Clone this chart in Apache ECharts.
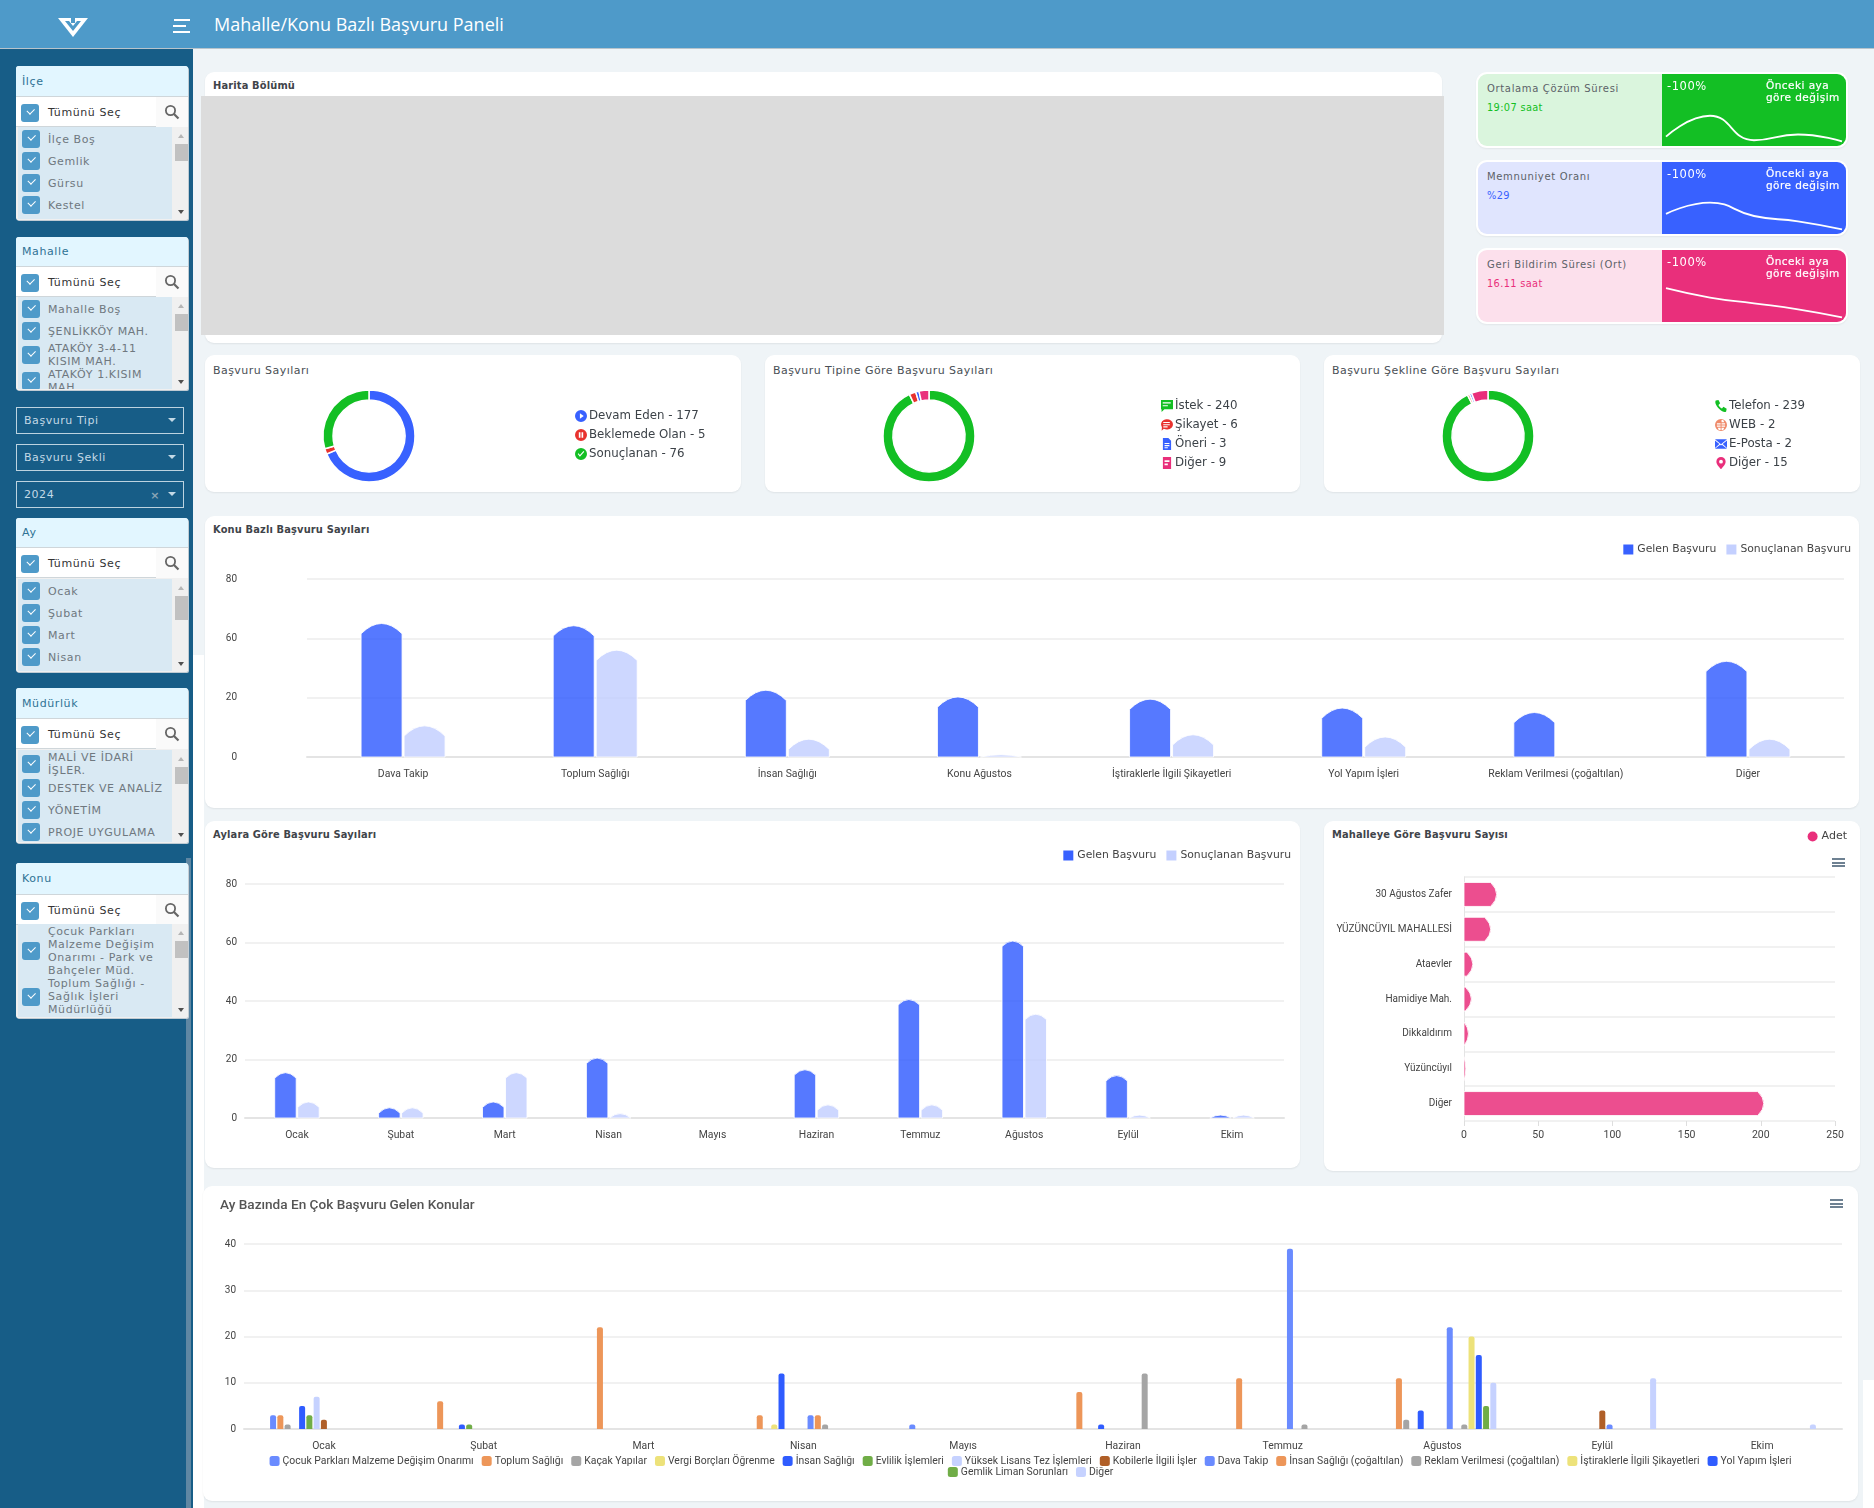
<!DOCTYPE html>
<html lang="tr">
<head>
<meta charset="utf-8">
<title>Mahalle/Konu Bazlı Başvuru Paneli</title>
<script src="https://cdn.jsdelivr.net/npm/echarts@6/dist/echarts.min.js"></script>
<style>
html,body{margin:0;padding:0;width:1874px;height:1508px;overflow:hidden;background:#eff4f7;font-family:"DejaVu Sans",sans-serif;}
div{box-sizing:border-box;}
.abs{position:absolute;}
.card{position:absolute;background:#fff;border-radius:9px;box-shadow:0 1px 2px rgba(0,0,0,.07);}
.ttl{position:absolute;left:8px;color:#4a4f55;font-size:11px;letter-spacing:.45px;white-space:nowrap;}
.ttl.b{font-weight:bold;font-size:9.9px;letter-spacing:.15px;color:#3f444a;}
.chart{position:absolute;left:0;top:0;width:100%;height:100%;}
.menu{position:absolute;width:13px;height:9px;border-top:2px solid #6e8192;border-bottom:2px solid #6e8192;}
.menu:after{content:"";position:absolute;left:0;right:0;top:1.5px;height:2px;background:#6e8192;}
.fp{position:absolute;left:16px;width:172px;border-radius:3px 3px 2px 2px;overflow:hidden;font-size:11px;letter-spacing:.6px;box-shadow:1px 1px 0 rgba(210,215,220,.9);background:#f0f0f0;}
.fp .hd{position:absolute;left:0;top:0;width:100%;background:#e2f6ff;color:#2f7294;padding-left:6px;display:flex;align-items:center;border-bottom:1px solid #cfd6da;}
.fp .sr{position:absolute;left:0;width:100%;height:30px;background:#fff;color:#333;border-bottom:1px solid #cfd6da;}
.fp .sr span{position:absolute;left:32px;top:9px;}
.fp .glass{position:absolute;left:140px;top:0;width:32px;height:30px;background:#fafafa;}
.fp .ls{position:absolute;left:2px;width:154px;bottom:1px;background:#d9e9f3;color:#6f787f;overflow:hidden;padding-top:1px;}
.fp .it{position:relative;min-height:22px;display:flex;align-items:center;padding-left:30px;line-height:13px;}
.cb{position:absolute;width:18px;height:18px;background:#4e9ac9;border-radius:3px;}
.cb:after{content:"";position:absolute;left:6px;top:4px;width:6px;height:3.5px;border-left:1.6px solid #fff;border-bottom:1.6px solid #fff;transform:rotate(-45deg);}
.it .cb{left:4px;top:50%;margin-top:-9px;}
.fp .tr{position:absolute;left:156px;width:16px;bottom:1px;background:#f0f0f0;}
.fp .tb{position:absolute;left:3px;width:13px;background:#c1c1c1;}
.up,.dn{position:absolute;left:6px;width:0;height:0;border-left:3.5px solid transparent;border-right:3.5px solid transparent;}
.up{top:7px;border-bottom:4px solid #b5b5b5;}
.dn{bottom:5px;border-top:4px solid #505050;}
.sel{position:absolute;left:16px;width:168px;height:27px;border:1px solid #bcd3e0;color:#c3d9e6;font-size:11px;letter-spacing:.55px;padding:6px 0 0 7px;}
.sel:after{content:"";position:absolute;right:7px;top:10px;border-left:4px solid transparent;border-right:4px solid transparent;border-top:4px solid #c3d9e6;}
.kpi{position:absolute;left:1476px;width:372px;height:76px;background:#fff;border-radius:11px;padding:2px;box-shadow:0 1px 2px rgba(0,0,0,.06);}
.kpi .in{position:relative;width:100%;height:100%;border-radius:9px;overflow:hidden;}
.kpi .rt{position:absolute;left:184px;top:0;width:184px;height:72px;}
.kpi .t1{position:absolute;left:9px;top:9px;font-size:10px;letter-spacing:.65px;color:#5c6268;white-space:nowrap;}
.kpi .t2{position:absolute;left:9px;top:28px;font-size:9.8px;letter-spacing:.35px;white-space:nowrap;}
.kpi .pc{position:absolute;left:5px;top:5px;color:#fff;font-size:11.5px;letter-spacing:.55px;}
.kpi .nt{position:absolute;left:104px;top:5px;color:#fff;font-size:10.5px;line-height:12px;letter-spacing:.45px;-webkit-text-stroke:.2px #fff;}
</style>
</head>
<body>
<div id="page"></div>
<script>
// sol filtreler
var ilceItems = ['İlçe Boş', 'Gemlik', 'Gürsu', 'Kestel'];
var mahalleItems = ['Mahalle Boş', 'ŞENLİKKÖY MAH.', 'ATAKÖY 3-4-11 KISIM MAH.', 'ATAKÖY 1.KISIM MAH.'];
var ayItems = ['Ocak', 'Şubat', 'Mart', 'Nisan'];
var mudurlukItems = ['MALİ VE İDARİ İŞLER.', 'DESTEK VE ANALİZ', 'YÖNETİM', 'PROJE UYGULAMA'];
var konuItems = ['Çocuk Parkları Malzeme Değişim Onarımı - Park ve Bahçeler Müd.', 'Toplum Sağlığı - Sağlık İşleri Müdürlüğü'];

// kpi sparkline
var sparkGreen = [13, 42, 8, 16, 6.5];
var sparkBlue = [28, 43.5, 25, 17.6, 6.5];
var sparkPink = [47, 34, 26, 17.6, 6.5];

// donut grafikler
var durumNames = ['Devam Eden', 'Beklemede Olan', 'Sonuçlanan'];
var durumValues = [177, 5, 76];
var tipNames = ['İstek', 'Şikayet', 'Öneri', 'Diğer'];
var tipValues = [240, 6, 3, 9];
var sekilNames = ['Telefon', 'WEB', 'E-Posta', 'Diğer'];
var sekilValues = [239, 2, 2, 15];

// konu bazli
var konuCats = ['Dava Takip', 'Toplum Sağlığı', 'İnsan Sağlığı', 'Konu Ağustos', 'İştiraklerle İlgili Şikayetleri', 'Yol Yapım İşleri', 'Reklam Verilmesi (çoğaltılan)', 'Diğer'];
var konuGelen = [60, 59, 30, 27, 26, 22, 20, 43];
var konuSonuc = [14, 48, 8, 1, 10, 9, 0, 8];
var konuTicks = ['0', '20', '60', '80'];

// aylar
var aylar = ['Ocak', 'Şubat', 'Mart', 'Nisan', 'Mayıs', 'Haziran', 'Temmuz', 'Ağustos', 'Eylül', 'Ekim'];
var ayGelen = [15.5, 3.5, 5.5, 20.5, 0, 16.5, 40.5, 60.5, 14.5, 1];
var aySonuc = [5.5, 3.5, 15.5, 1.5, 0, 4.5, 4.5, 35.5, 1, 1];

// mahalle
var mahalleCats = ['30 Ağustos Zafer', 'YÜZÜNCÜYIL MAHALLESİ', 'Ataevler', 'Hamidiye Mah.', 'Dikkaldırım', 'Yüzüncüyıl', 'Diğer'];
var mahalleAdet = [22, 18, 6, 5, 3, 1.2, 202];

// ay bazinda konular
var cocukParklari = [3, 0, 0, 0, 1, 0, 0, 0, 0, 0];
var toplumSagligi = [3, 6, 22, 3, 0, 8, 11, 11, 0, 0];
var kacakYapilar = [1, 0, 0, 0, 0, 0, 0, 2, 0, 0];
var vergiBorclari = [0, 0, 0, 1, 0, 0, 0, 0, 0, 0];
var insanSagligi = [5, 1, 0, 12, 0, 1, 0, 4, 0, 0];
var evlilik = [3, 1, 0, 0, 0, 0, 0, 0, 0, 0];
var yuksekLisans = [7, 0, 0, 0, 0, 0, 0, 0, 0, 0];
var kobiler = [2, 0, 0, 0, 0, 0, 0, 0, 4, 0];
var davaTakip = [0, 0, 0, 3, 0, 0, 39, 22, 1, 0];
var insanCogaltilan = [0, 0, 0, 3, 0, 0, 0, 0, 0, 0];
var reklam = [0, 0, 0, 1, 0, 12, 1, 1, 0, 0];
var istirakler = [0, 0, 0, 0, 0, 0, 0, 20, 0, 0];
var yolYapim = [0, 0, 0, 0, 0, 0, 0, 16, 0, 0];
var gemlikLiman = [0, 0, 0, 0, 0, 0, 0, 5, 0, 0];
var digerKonu = [0, 0, 0, 0, 0, 0, 0, 10, 11, 1];
var konuSeries = [
    ['Çocuk Parkları Malzeme Değişim Onarımı', cocukParklari, '#6a8bff'],
    ['Toplum Sağlığı', toplumSagligi, '#ed9659'],
    ['Kaçak Yapılar', kacakYapilar, '#a5a5a5'],
    ['Vergi Borçları Öğrenme', vergiBorclari, '#ede27a'],
    ['İnsan Sağlığı', insanSagligi, '#2f5cff'],
    ['Evlilik İşlemleri', evlilik, '#70ad47'],
    ['Yüksek Lisans Tez İşlemleri', yuksekLisans, '#c6d2ff'],
    ['Kobilerle İlgili İşler', kobiler, '#b05f28'],
    ['Dava Takip', davaTakip, '#6a8bff'],
    ['İnsan Sağlığı (çoğaltılan)', insanCogaltilan, '#ed9659'],
    ['Reklam Verilmesi (çoğaltılan)', reklam, '#a5a5a5'],
    ['İştiraklerle İlgili Şikayetleri', istirakler, '#ede27a'],
    ['Yol Yapım İşleri', yolYapim, '#2f5cff'],
    ['Gemlik Liman Sorunları', gemlikLiman, '#70ad47'],
    ['Diğer', digerKonu, '#c6d2ff']
];

var page = document.getElementById('page');
var BLUE = '#3861ff', LIGHT = '#c4d0ff', PINK = '#e92f7b', GREEN = '#13bf24', RED = '#e8322e';
var LABEL_FONT = 'Roboto';

function addDiv(cssText, html, cls) {
    var d = document.createElement('div');
    d.className = cls || 'abs';
    d.style.cssText = 'position:absolute;' + cssText;
    if (html) d.innerHTML = html;
    page.appendChild(d);
    return d;
}

var glassSvg = '<svg style="position:absolute;left:8px;top:7px" width="16" height="16" viewBox="0 0 16 16"><circle cx="6.5" cy="6.5" r="4.6" fill="none" stroke="#666" stroke-width="1.8"/><path d="M10 10L14.5 14.5" stroke="#666" stroke-width="2.2"/></svg>';

function filterPanel(title, top, h1, h2, bottom, items, thumb) {
    var html = '<div class="hd" style="height:' + h1 + 'px">' + title + '</div>';
    html += '<div class="sr" style="top:' + h1 + 'px"><div class="cb" style="left:5px;top:7px"></div><span>Tümünü Seç</span><div class="glass">' + glassSvg + '</div></div>';
    var lt = h1 + h2;
    html += '<div class="ls" style="top:' + lt + 'px">';
    items.forEach(function (t) {
        html += '<div class="it"><div class="cb"></div><div>' + t + '</div></div>';
    });
    html += '</div><div class="tr" style="top:' + lt + 'px"><div class="up"></div><div class="tb" style="top:' + thumb[0] + 'px;height:' + thumb[1] + 'px"></div><div class="dn"></div></div>';
    addDiv('top:' + top + 'px;height:' + (bottom - top) + 'px', html, 'fp');
}

// header + sidebar
addDiv('left:0;top:0;width:1874px;height:49px;background:#4e9ac9;border-bottom:1px solid #b8c4cc');
addDiv('left:57px;top:16px;width:32px;height:22px', '<svg width="32" height="22" viewBox="0 0 32 22"><path d="M1 2H31L16 21Z" fill="#fff"/><path d="M8 5L16 15L24 5H20L16 10L12 5Z" fill="#4e9ac9"/><path d="M14 2H18V7H14Z" fill="#4e9ac9"/></svg>');
addDiv('left:174px;top:19px;width:16px;height:2px;background:#fff');
addDiv('left:173px;top:25px;width:13px;height:2px;background:#fff');
addDiv('left:173px;top:31px;width:17px;height:2px;background:#fff');
addDiv('left:214px;top:13px;color:#fff;font:500 18px/22px \'Open Sans\';white-space:nowrap', 'Mahalle/Konu Bazlı Başvuru Paneli');
addDiv('left:0;top:49px;width:193px;height:1459px;background:#175d87');
addDiv('left:186px;top:858px;width:5px;height:650px;background:#5f87a3');
addDiv('left:193px;top:655px;width:11px;height:853px;background:#fff');
addDiv('left:1863px;top:1380px;width:11px;height:128px;background:#fff');

filterPanel('İlçe', 66, 31, 30, 220, ilceItems, [17, 17]);
filterPanel('Mahalle', 237, 30, 30, 390, mahalleItems, [17, 17]);
addDiv('top:407px', 'Başvuru Tipi', 'sel');
addDiv('top:444px', 'Başvuru Şekli', 'sel');
addDiv('top:481px', '2024<span style="position:absolute;right:23px;top:7px;color:#8aa5b5;font-weight:bold">×</span>', 'sel');
filterPanel('Ay', 518, 30, 31, 672, ayItems, [17, 24]);
filterPanel('Müdürlük', 688, 31, 31, 843, mudurlukItems, [17, 17]);
filterPanel('Konu', 863, 32, 29, 1018, konuItems, [17, 17]);

function makeCard(left, top, w, h, title, titleTop, bold) {
    var c = addDiv('left:' + left + 'px;top:' + top + 'px;width:' + w + 'px;height:' + h + 'px', '', 'card');
    if (title) {
        var t = document.createElement('div');
        t.className = bold ? 'ttl b' : 'ttl';
        t.style.top = titleTop + 'px';
        t.textContent = title;
        c.appendChild(t);
    }
    return c;
}

function makeChart(card) {
    var d = document.createElement('div');
    d.className = 'chart';
    card.appendChild(d);
    return echarts.init(d);
}

// harita
makeCard(205, 72, 1237, 271, 'Harita Bölümü', 8, true);
addDiv('left:201px;top:96px;width:1243px;height:239px;background:#dcdcdc');

// kpi kartlari
function kpiCard(top, bg, color, title, value, spark) {
    var k = addDiv('top:' + top + 'px', '<div class="in" style="background:' + bg + '"><div class="t1">' + title + '</div><div class="t2" style="color:' + color + '">' + value + '</div><div class="rt" style="background:' + color + '"><div class="sp" style="position:absolute;left:0;top:0;width:184px;height:72px"></div><div class="pc">-100%</div><div class="nt">Önceki aya<br>göre değişim</div></div></div>', 'kpi');
    var ch = echarts.init(k.querySelector('.sp'));
    ch.setOption({
        animation: false,
        grid: { left: 4, right: 4, top: 0, bottom: 0 },
        xAxis: { type: 'category', show: false, boundaryGap: false, data: spark.map(function (v, i) { return i; }) },
        yAxis: { type: 'value', show: false, min: 0, max: 100 },
        series: [{ type: 'line', data: spark, smooth: true, symbol: 'none', lineStyle: { color: '#fff', width: 1.8 } }]
    });
}
kpiCard(72, '#daf5dd', GREEN, 'Ortalama Çözüm Süresi', '19:07 saat', sparkGreen);
kpiCard(160, '#e0e5fe', BLUE, 'Memnuniyet Oranı', '%29', sparkBlue);
kpiCard(248, '#fce0ec', PINK, 'Geri Bildirim Süresi (Ort)', '16.11 saat', sparkPink);

// donut
var RING = 'M12 1A11 11 0 1 1 12 23A11 11 0 1 1 12 1Z';
var iconPlay = 'path://' + RING + 'M10 7L10 17L17 12Z';
var iconPause = 'path://' + RING + 'M8 7L8 17L11 17L11 7ZM13 7L13 17L16 17L16 7Z';
var iconCheck = 'path://' + RING + 'M6 12L10 17L18 8L16.5 6.5L10 14L7.5 10.5Z';
var iconChat = 'path://M2 2H23V18H8L3 23V18H2ZM5 6L5 8L19 8L19 6ZM5 11L5 13L14 13L14 11Z';
var iconBubble = 'path://M12 2A11 9.5 0 1 1 7 19.5L3 23L3.5 16.5A11 9.5 0 0 1 12 2ZM6 7L6 9L18 9L18 7ZM6 11L6 13L18 13L18 11ZM6 15L6 17L14 17L14 15Z';
var iconDoc = 'path://M5 1H15L20 6V23H5ZM8 10L8 12L17 12L17 10ZM8 14L8 16L17 16L17 14ZM8 18L8 20L14 20L14 18Z';
var iconNote = 'path://M5 1H20V23H5ZM8 7L8 10L17 10L17 7ZM8 13L8 16L14 16L14 13Z';
var iconPhone = 'path://M3 2L8 1L11 7L8 10C9.5 13 11.5 15 14.5 16.5L17 13.5L23 17L22 22C20 24 15 23 9 17C3 11 1 5 3 2Z';
var iconGlobe = 'path://' + RING + 'M11.3 3L11.3 7L6 7L8 3ZM4.5 9L4.5 11.3L11.3 11.3L11.3 9ZM4.5 13L4.5 15L11.3 15L11.3 13ZM6 17L8 21L11.3 21L11.3 17ZM13 3L13 7L18 7L16 3ZM13 9L13 11.3L19.5 11.3L19.5 9ZM13 13L13 15L19.5 15L19.5 13ZM13 17L13 21L16 21L18 17Z';
var iconMail = 'path://M1 4H23L12 13ZM1 6L9 12.5L1 20ZM23 6V20L15 12.5ZM1 21L10.5 14L12 15.3L13.5 14L23 21Z';
var iconPin = 'path://M12 1A8.5 8.5 0 0 1 20.5 9.5C20.5 15 12 23 12 23C12 23 3.5 15 3.5 9.5A8.5 8.5 0 0 1 12 1ZM12 6A3.5 3.5 0 0 0 12 13A3.5 3.5 0 0 0 12 6Z';

function donutCard(left, w, title, names, values, colors, icons, cx, legendLeft, legendTop) {
    var c = makeCard(left, 355, w, 137, title, 9, false);
    var ch = makeChart(c);
    ch.setOption({
        animation: false,
        legend: {
            orient: 'vertical',
            left: legendLeft,
            top: legendTop,
            itemWidth: 12,
            itemHeight: 12,
            itemGap: 7,
            selectedMode: false,
            itemStyle: { borderWidth: 0 },
            data: names.map(function (n, i) { return { name: n, icon: icons[i] }; }),
            formatter: function (n) { return n + ' - ' + values[names.indexOf(n)]; },
            textStyle: { fontFamily: 'DejaVu Sans', fontSize: 11.8, color: '#3c4248', padding: [0, 0, 0, -3] }
        },
        series: [{
            type: 'pie',
            center: [cx, 81],
            radius: [36, 46],
            startAngle: 90,
            label: { show: false },
            labelLine: { show: false },
            itemStyle: { borderColor: '#fff', borderWidth: 1.5 },
            data: names.map(function (n, i) { return { name: n, value: values[i], itemStyle: { color: colors[i] } }; })
        }]
    });
}
donutCard(205, 536, 'Başvuru Sayıları', durumNames, durumValues, [BLUE, RED, GREEN], [iconPlay, iconPause, iconCheck], 164, 365, 50);
donutCard(765, 535, 'Başvuru Tipine Göre Başvuru Sayıları', tipNames, tipValues, [GREEN, RED, BLUE, PINK], [iconChat, iconBubble, iconDoc, iconNote], 164, 391, 40);
donutCard(1324, 536, 'Başvuru Şekline Göre Başvuru Sayıları', sekilNames, sekilValues, [GREEN, '#ef8a6a', BLUE, PINK], [iconPhone, iconGlobe, iconMail, iconPin], 164, 386, 40);

// kemer tepeli bar, renderItem
function archRender(barW, offset, horizontal) {
    return function (params, api) {
        var cat = api.value(horizontal ? 1 : 0);
        var val = api.value(horizontal ? 0 : 1);
        if (!val) return null;
        var base = horizontal ? api.coord([0, cat]) : api.coord([cat, 0]);
        var tip = horizontal ? api.coord([val, cat]) : api.coord([cat, val]);
        var d;
        if (horizontal) {
            var len = tip[0] - base[0];
            var a = Math.min(barW / 4, len);
            var y0 = base[1] - barW / 2, y1 = base[1] + barW / 2;
            d = 'M' + base[0] + ' ' + y0 + 'L' + (tip[0] - a) + ' ' + y0 + 'Q' + (tip[0] + a) + ' ' + base[1] + ' ' + (tip[0] - a) + ' ' + y1 + 'L' + base[0] + ' ' + y1 + 'Z';
        } else {
            var hgt = base[1] - tip[1];
            var b = Math.min(barW / 4, hgt);
            var x0 = base[0] + offset - barW / 2, x1 = base[0] + offset + barW / 2;
            d = 'M' + x0 + ' ' + base[1] + 'L' + x0 + ' ' + (tip[1] + b) + 'Q' + (x0 + barW / 2) + ' ' + (tip[1] - b) + ' ' + x1 + ' ' + (tip[1] + b) + 'L' + x1 + ' ' + base[1] + 'Z';
        }
        return {
            type: 'path',
            shape: { pathData: d },
            style: { fill: api.visual('color'), stroke: '#fff', lineWidth: 1, opacity: 0.85 }
        };
    };
}

function archSeries(name, values, color, barW, offset) {
    return {
        type: 'custom',
        name: name,
        itemStyle: { color: color },
        renderItem: archRender(barW, offset, false),
        data: values.map(function (v, i) { return [i, v]; })
    };
}

var axisText = { fontFamily: LABEL_FONT, fontSize: 10, color: '#444' };
var gridLine = { show: true, lineStyle: { color: '#ececec', width: 1.5 } };

function xCatAxis(cats, margin) {
    return {
        type: 'category',
        data: cats,
        axisLine: { lineStyle: { color: '#e4e4e4', width: 2 } },
        axisTick: { length: 6, lineStyle: { color: '#dedede' } },
        axisLabel: { fontFamily: LABEL_FONT, fontSize: 10.4, color: '#444', margin: margin, interval: 0 }
    };
}

function legendTop(right, top) {
    return {
        right: right,
        top: top,
        icon: 'rect',
        itemWidth: 10,
        itemHeight: 10,
        itemGap: 10,
        selectedMode: false,
        textStyle: { fontFamily: 'DejaVu Sans', fontSize: 10.8, color: '#444', padding: [0, 0, 0, -1] }
    };
}

// Konu Bazli
var konuChart = makeChart(makeCard(205, 516, 1654, 292, 'Konu Bazlı Başvuru Sayıları', 8, true));
konuChart.setOption({
    animation: false,
    legend: legendTop(3, 23),
    grid: { left: 102, right: 15, top: 63, height: 178 },
    xAxis: xCatAxis(konuCats, 12),
    yAxis: {
        type: 'value', min: 0, max: 80, interval: 80 / 3,
        axisLine: { show: false }, axisTick: { show: false },
        splitLine: gridLine,
        axisLabel: Object.assign({ margin: 70, padding: [0, 0, 5, 0], formatter: function (v, i) { return konuTicks[i]; } }, axisText)
    },
    series: [
        archSeries('Gelen Başvuru', konuGelen, BLUE, 41, -21.5),
        archSeries('Sonuçlanan Başvuru', konuSonuc, LIGHT, 41, 21.5)
    ]
});

// Aylara gore
var ayChart = makeChart(makeCard(205, 821, 1095, 347, 'Aylara Göre Başvuru Sayıları', 8, true));
ayChart.setOption({
    animation: false,
    legend: legendTop(4, 24),
    grid: { left: 40, right: 16, top: 63, height: 234 },
    xAxis: xCatAxis(aylar, 12),
    yAxis: {
        type: 'value', min: 0, max: 80, interval: 20,
        axisLine: { show: false }, axisTick: { show: false },
        splitLine: gridLine,
        axisLabel: Object.assign({ margin: 8, padding: [0, 0, 5, 0] }, axisText)
    },
    series: [
        archSeries('Gelen Başvuru', ayGelen, BLUE, 21.5, -11.5),
        archSeries('Sonuçlanan Başvuru', aySonuc, LIGHT, 21.5, 11.5)
    ]
});

// Mahalle
var mahCard = makeCard(1324, 821, 536, 350, 'Mahalleye Göre Başvuru Sayısı', 8, true);
var mahChart = makeChart(mahCard);
mahChart.setOption({
    animation: false,
    legend: {
        right: 8, top: 5, icon: 'circle', itemWidth: 10, itemHeight: 10, selectedMode: false,
        textStyle: { fontFamily: 'DejaVu Sans', fontSize: 11, color: '#444', padding: [0, 0, 0, -1] }
    },
    grid: { left: 140, width: 371, top: 56, height: 244 },
    xAxis: {
        type: 'value', min: 0, max: 250, interval: 50,
        splitLine: { show: false },
        axisLine: { show: false },
        axisTick: { show: true, length: 5, lineStyle: { color: '#dedede' } },
        axisLabel: { fontFamily: LABEL_FONT, fontSize: 10.5, color: '#444', margin: 9, hideOverlap: false }
    },
    yAxis: {
        type: 'category',
        inverse: true,
        data: mahalleCats,
        axisTick: { show: false },
        axisLine: { lineStyle: { color: '#e4e4e4' } },
        splitLine: gridLine,
        axisLabel: { fontFamily: LABEL_FONT, fontSize: 10, color: '#444', margin: 12, interval: 0, padding: [0, 0, 3, 0] }
    },
    series: [{
        type: 'custom',
        name: 'Adet',
        itemStyle: { color: PINK },
        renderItem: archRender(24, 0, true),
        data: mahalleAdet.map(function (v, i) { return [v, i]; })
    }]
});
addDiv('left:1832px;top:858px', '', 'menu');

// Ay bazinda konular
var ayKonuChart = makeChart(makeCard(203, 1186, 1655, 315, '', 0, false));
var konuNames = konuSeries.map(function (s) { return s[0]; });
function konuLegend(names, top) {
    return {
        left: 'center', top: top, data: names, icon: 'roundRect', itemWidth: 10, itemHeight: 10, itemGap: 8, selectedMode: false,
        textStyle: { fontFamily: LABEL_FONT, fontSize: 10.4, color: '#444', padding: [0, 0, 0, -2] }
    };
}
ayKonuChart.setOption({
    animation: false,
    title: { text: 'Ay Bazında En Çok Başvuru Gelen Konular', left: 12, top: 8, textStyle: { fontFamily: LABEL_FONT, fontSize: 13.6, fontWeight: 500, color: '#555' } },
    legend: [konuLegend(konuNames.slice(0, 13), 265), konuLegend(konuNames.slice(13), 276)],
    grid: { left: 41, right: 16, top: 58, height: 185 },
    xAxis: xCatAxis(aylar, 12),
    yAxis: {
        type: 'value', min: 0, max: 40, interval: 10,
        axisLine: { show: false }, axisTick: { show: false },
        splitLine: gridLine,
        axisLabel: Object.assign({ margin: 8, padding: [0, 0, 5, 0] }, axisText)
    },
    series: konuSeries.map(function (s) {
        return {
            type: 'bar', name: s[0], data: s[1], barWidth: 6, barGap: '21%',
            itemStyle: { color: s[2], borderRadius: [2, 2, 0, 0] }
        };
    })
});
addDiv('left:1830px;top:1199px', '', 'menu');
</script>
</body>
</html>
